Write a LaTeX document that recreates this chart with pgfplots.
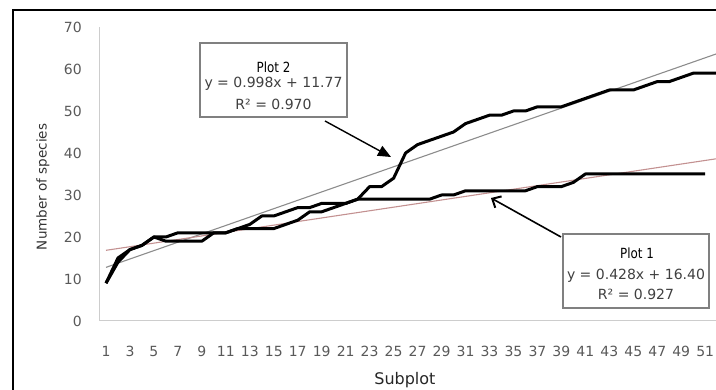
\documentclass[border=0pt]{standalone}
\usepackage{fontspec}
\setmainfont{DejaVu Sans}
\usepackage{graphicx}
\usepackage{pgfplots}
\pgfplotsset{compat=1.18}
\usetikzlibrary{arrows.meta}
\definecolor{tickgray}{RGB}{89,89,89}
\definecolor{axgray}{RGB}{205,205,205}
\definecolor{trendtwo}{RGB}{140,140,140}
\definecolor{trendone}{RGB}{195,145,145}
\definecolor{boxgray}{RGB}{128,128,128}
\definecolor{txtgray}{RGB}{64,64,64}
\begin{document}
\begin{tikzpicture}
\begin{axis}[
  at={(0,0)}, anchor=south west,
  scale only axis, width=616pt, height=294pt,
  xmin=0.5, xmax=51.9, ymin=0, ymax=70,
  axis lines=left, axis line style={draw=axgray, line width=1pt, -},
  xtick={1,3,...,51}, ytick={0,10,...,70},
  major tick length=0pt,
  /pgf/number format/assume math mode=true,
  tick label style={font=\fontsize{14}{16}\selectfont, text=tickgray},
  xticklabel style={anchor=center, yshift=-30pt},
  yticklabel style={anchor=east, inner sep=0pt, xshift=-18pt},
  xlabel={Subplot},
  xlabel style={at={(axis description cs:0.495,-0.2177)}, anchor=base, font=\fontsize{16}{18}\selectfont, text=black!85},
  ylabel={Number of species},
  ylabel style={at={(axis description cs:-0.0925,0.456)}, anchor=center, rotate=0, font=\fontsize{13.5}{15}\selectfont, text=black!80},
]
% trend lines
\addplot[trendtwo, line width=1.1pt] coordinates {(1,12.768) (52,63.666)};
\addplot[trendone, line width=1.1pt] coordinates {(1,16.828) (52,38.656)};
% Plot 1
\addplot[black, line width=3pt, line join=round] coordinates {
(1,9) (2,15) (3,17) (4,18) (5,20) (6,19) (7,19) (8,19) (9,19) (10,21)
(11,21) (12,22) (13,22) (14,22) (15,22) (16,23) (17,24) (18,26) (19,26) (20,27)
(21,28) (22,29) (23,29) (24,29) (25,29) (26,29) (27,29) (28,29) (29,30) (30,30)
(31,31) (32,31) (33,31) (34,31) (35,31) (36,31) (37,32) (38,32) (39,32) (40,33)
(41,35) (42,35) (43,35) (44,35) (45,35) (46,35) (47,35) (48,35) (49,35) (50,35) (51,35)};
% Plot 2
\addplot[black, line width=3pt, line join=round] coordinates {
(1,9) (2,14) (3,17) (4,18) (5,20) (6,20) (7,21) (8,21) (9,21) (10,21)
(11,21) (12,22) (13,23) (14,25) (15,25) (16,26) (17,27) (18,27) (19,28) (20,28)
(21,28) (22,29) (23,32) (24,32) (25,34) (26,40) (27,42) (28,43) (29,44) (30,45)
(31,47) (32,48) (33,49) (34,49) (35,50) (36,50) (37,51) (38,51) (39,51) (40,52)
(41,53) (42,54) (43,55) (44,55) (45,55) (46,56) (47,57) (48,57) (49,58) (50,59)
(51,59) (52,59)};
\end{axis}
% annotation boxes
\draw[boxgray, line width=1.3pt, fill=white] (100pt,204pt) rectangle (247pt,278pt);
\node[anchor=base, inner sep=0pt, text=black] at (173.5pt,248pt) {\fontsize{14}{16}\selectfont\scalebox{0.85}[1]{Plot 2}};
\node[anchor=base, inner sep=0pt, text=txtgray] at (173.5pt,233pt) {\fontsize{14}{16}\selectfont y = 0.998x + 11.77};
\node[anchor=base, inner sep=0pt, text=txtgray] at (173.5pt,211.3pt) {\fontsize{14}{16}\selectfont R² = 0.970};
\draw[boxgray, line width=1.3pt, fill=white] (463pt,13pt) rectangle (609pt,87pt);
\node[anchor=base, inner sep=0pt, text=black] at (537pt,62.7pt) {\fontsize{14}{16}\selectfont\scalebox{0.85}[1]{Plot 1}};
\node[anchor=base, inner sep=0pt, text=txtgray] at (536pt,41pt) {\fontsize{14}{16}\selectfont y = 0.428x + 16.40};
\node[anchor=base, inner sep=0pt, text=txtgray] at (536pt,21pt) {\fontsize{14}{16}\selectfont R² = 0.927};
% arrows
\draw[black, line width=1.4pt, -{Triangle[length=13pt,width=11pt]}] (225pt,200pt) -- (291pt,164pt);
\draw[black, line width=1.6pt, -{Straight Barb[length=7pt,width=13pt,line width=2pt]}] (461pt,84pt) -- (391pt,123pt);
% crop like the reference
\pgfresetboundingbox
\useasboundingbox (-100pt,-69pt) rectangle (616pt,321pt);
\draw[black, line width=2pt] (-87pt,-120pt) -- (-87pt,311pt) -- (740pt,311pt);
\end{tikzpicture}
\end{document}
